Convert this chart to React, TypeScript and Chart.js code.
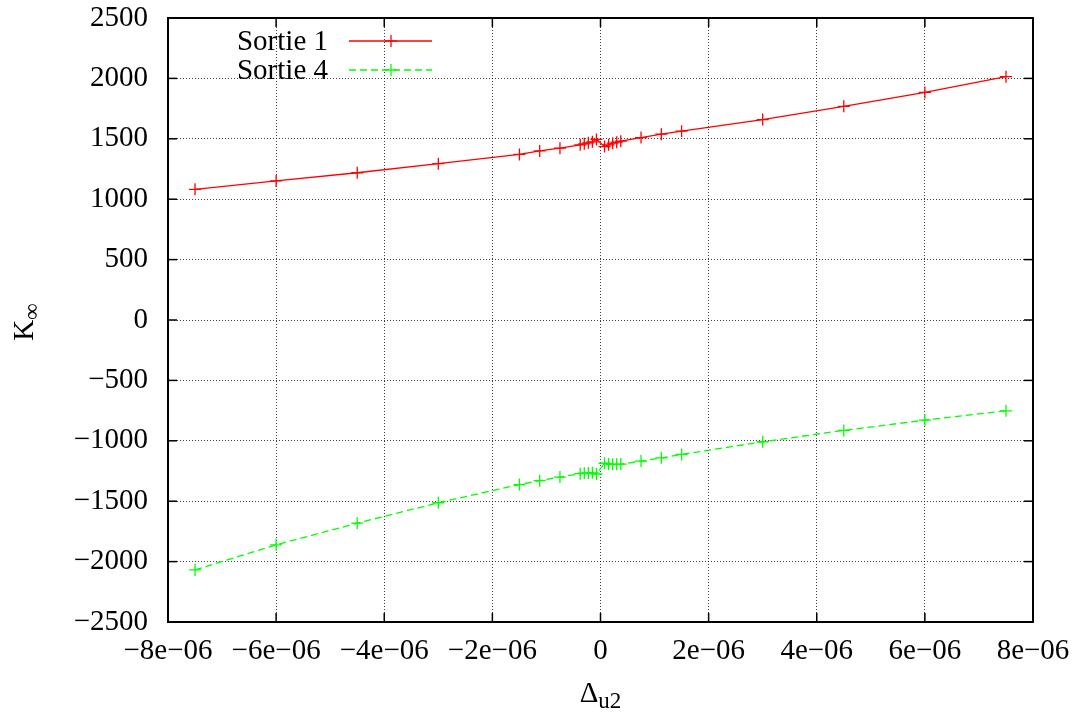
import React, { useEffect, useRef } from 'react';
import { Chart, registerables } from 'chart.js';

Chart.register(...registerables);

// Δu2 values (x)
const deltaU2 = [
  -7.5e-6, -6e-6, -4.5e-6, -3e-6, -1.5e-6, -1.125e-6, -0.75e-6, -0.375e-6, -0.3e-6, -0.225e-6, -0.15e-6, -0.075e-6,
  0.075e-6, 0.15e-6, 0.225e-6, 0.3e-6, 0.375e-6, 0.75e-6, 1.125e-6, 1.5e-6, 3e-6, 4.5e-6, 6e-6, 7.5e-6,
];

// K∞ values
const sortie1 = [
  1082, 1151, 1219, 1294, 1371, 1400, 1422, 1450, 1458, 1467, 1475, 1495,
  1436, 1450, 1464, 1472, 1480, 1510, 1538, 1563, 1659, 1769, 1884, 2014,
];
const sortie4 = [
  -2069, -1861, -1682, -1513, -1362, -1330, -1300, -1272, -1268, -1266, -1265, -1275,
  -1186, -1192, -1195, -1195, -1193, -1168, -1141, -1113, -1008, -914, -829, -752,
];

const seriesLabels = ['Sortie 1', 'Sortie 4'];
const seriesColors = ['#ff0000', '#00ff00'];
const xTickValues = [-8e-6, -6e-6, -4e-6, -2e-6, 0, 2e-6, 4e-6, 6e-6, 8e-6];
const yTickValues = [-2500, -2000, -1500, -1000, -500, 0, 500, 1000, 1500, 2000, 2500];
const xTitle = ['\u0394', 'u2'];
const yTitle = ['K', '\u221E'];

const FONT = "'Liberation Serif', 'Times New Roman', serif";
const FS = 29;
const SUB = 23;

const fmtX = (v: number) => {
  const m = Math.round(v * 1e6);
  if (m === 0) return '0';
  return (m < 0 ? '\u2212' : '') + Math.abs(m) + 'e\u221206';
};
const fmtY = (v: number) => (v < 0 ? '\u2212' + Math.abs(v) : String(v));

const decorPlugin = {
  id: 'gnuplotDecor',
  afterDraw(chart: any) {
    const { ctx, chartArea } = chart;
    const { left, right, top, bottom } = chartArea;
    const xs = chart.scales.x;
    const ys = chart.scales.y;
    ctx.save();
    ctx.strokeStyle = '#000';
    ctx.lineWidth = 1.5;
    ctx.setLineDash([]);
    const line = (x1: number, y1: number, x2: number, y2: number) => {
      ctx.beginPath();
      ctx.moveTo(x1, y1);
      ctx.lineTo(x2, y2);
      ctx.stroke();
    };
    const T = 9;
    for (const v of yTickValues) {
      const py = ys.getPixelForValue(v);
      line(left, py, left + T, py);
      line(right, py, right - T, py);
    }
    for (const v of xTickValues) {
      const px = xs.getPixelForValue(v);
      line(px, bottom, px, bottom - T);
      line(px, top, px, top + T);
    }
    ctx.lineWidth = 2;
    ctx.strokeRect(left, top, right - left, bottom - top);

    // legend
    const legY = [41, 70];
    ctx.textAlign = 'right';
    ctx.textBaseline = 'middle';
    ctx.font = `${FS}px ${FONT}`;
    seriesLabels.forEach((lab, i) => {
      ctx.fillStyle = '#000';
      ctx.fillText(lab, 328, legY[i] + 1);
      ctx.strokeStyle = seriesColors[i];
      ctx.lineWidth = 1.3;
      ctx.setLineDash(i === 1 ? [7, 4] : []);
      line(349, legY[i], 432, legY[i]);
      ctx.setLineDash([]);
      line(385, legY[i], 397, legY[i]);
      line(391, legY[i] - 6, 391, legY[i] + 6);
    });

    // x title
    ctx.fillStyle = '#000';
    ctx.textAlign = 'left';
    ctx.textBaseline = 'alphabetic';
    ctx.font = `${FS}px ${FONT}`;
    const w1 = ctx.measureText(xTitle[0]).width;
    ctx.font = `${SUB}px ${FONT}`;
    const w2 = ctx.measureText(xTitle[1]).width;
    const cx = (left + right) / 2;
    const sx = cx - (w1 + w2) / 2;
    ctx.font = `${FS}px ${FONT}`;
    ctx.fillText(xTitle[0], sx, 702);
    ctx.font = `${SUB}px ${FONT}`;
    ctx.fillText(xTitle[1], sx + w1, 708);

    // y title
    ctx.font = `${FS}px ${FONT}`;
    const k1 = ctx.measureText(yTitle[0]).width;
    ctx.font = `${SUB}px ${FONT}`;
    const k2 = ctx.measureText(yTitle[1]).width;
    const cy = (top + bottom) / 2 + 2;
    ctx.translate(33, cy + (k1 + k2) / 2);
    ctx.rotate(-Math.PI / 2);
    ctx.font = `${FS}px ${FONT}`;
    ctx.fillText(yTitle[0], 0, 0);
    ctx.font = `${SUB}px ${FONT}`;
    ctx.fillText(yTitle[1], k1, 6);
    ctx.restore();
  },
};

export default function App() {
  const ref = useRef<HTMLCanvasElement | null>(null);
  useEffect(() => {
    document.body.style.margin = '0';
    const canvas = ref.current;
    if (!canvas) return;
    const mk = (vals: number[]) => deltaU2.map((x, i) => ({ x, y: vals[i] }));
    const chart = new Chart(canvas, {
      type: 'line',
      data: {
        datasets: [
          {
            label: seriesLabels[0],
            data: mk(sortie1),
            borderColor: seriesColors[0],
            backgroundColor: seriesColors[0],
            borderWidth: 1.3,
            pointStyle: 'cross',
            pointRadius: 6,
            pointBorderWidth: 1.3,
            pointBorderColor: seriesColors[0],
            tension: 0,
            fill: false,
          },
          {
            label: seriesLabels[1],
            data: mk(sortie4),
            borderColor: seriesColors[1],
            backgroundColor: seriesColors[1],
            borderWidth: 1.3,
            borderDash: [7, 4],
            pointStyle: 'cross',
            pointRadius: 6,
            pointBorderWidth: 1.3,
            pointBorderColor: seriesColors[1],
            tension: 0,
            fill: false,
          },
        ],
      },
      options: {
        responsive: false,
        animation: false,
        devicePixelRatio: 1,
        layout: { padding: { left: 0, top: 18, right: 47, bottom: 0 } },
        plugins: { legend: { display: false }, tooltip: { enabled: false }, title: { display: false } },
        scales: {
          x: {
            type: 'linear',
            min: -8e-6,
            max: 8e-6,
            afterBuildTicks: (s: any) => {
              s.ticks = xTickValues.map((v) => ({ value: v }));
            },
            afterFit: (s: any) => {
              s.height = 93;
              s.paddingLeft = 0;
              s.paddingRight = 0;
            },
            ticks: {
              callback: (v: any) => fmtX(Number(v)),
              font: { family: FONT, size: FS },
              color: '#000',
              padding: 12,
              maxRotation: 0,
              autoSkip: false,
            },
            grid: { color: 'rgba(0,0,0,0.75)', lineWidth: 1, drawTicks: false },
            border: { display: false, dash: [1, 2] },
          },
          y: {
            type: 'linear',
            min: -2500,
            max: 2500,
            afterBuildTicks: (s: any) => {
              s.ticks = yTickValues.map((v) => ({ value: v }));
            },
            afterFit: (s: any) => {
              s.width = 168;
              s.paddingTop = 0;
              s.paddingBottom = 0;
            },
            ticks: {
              callback: (v: any) => fmtY(Number(v)),
              font: { family: FONT, size: FS },
              color: '#000',
              padding: 20,
              autoSkip: false,
            },
            grid: { color: 'rgba(0,0,0,0.75)', lineWidth: 1, drawTicks: false },
            border: { display: false, dash: [1, 2] },
          },
        },
      },
      plugins: [decorPlugin],
    });
    return () => chart.destroy();
  }, []);
  return (
    <div style={{ width: 1080, height: 715, background: '#fff' }}>
      <canvas ref={ref} width={1080} height={715} />
    </div>
  );
}
